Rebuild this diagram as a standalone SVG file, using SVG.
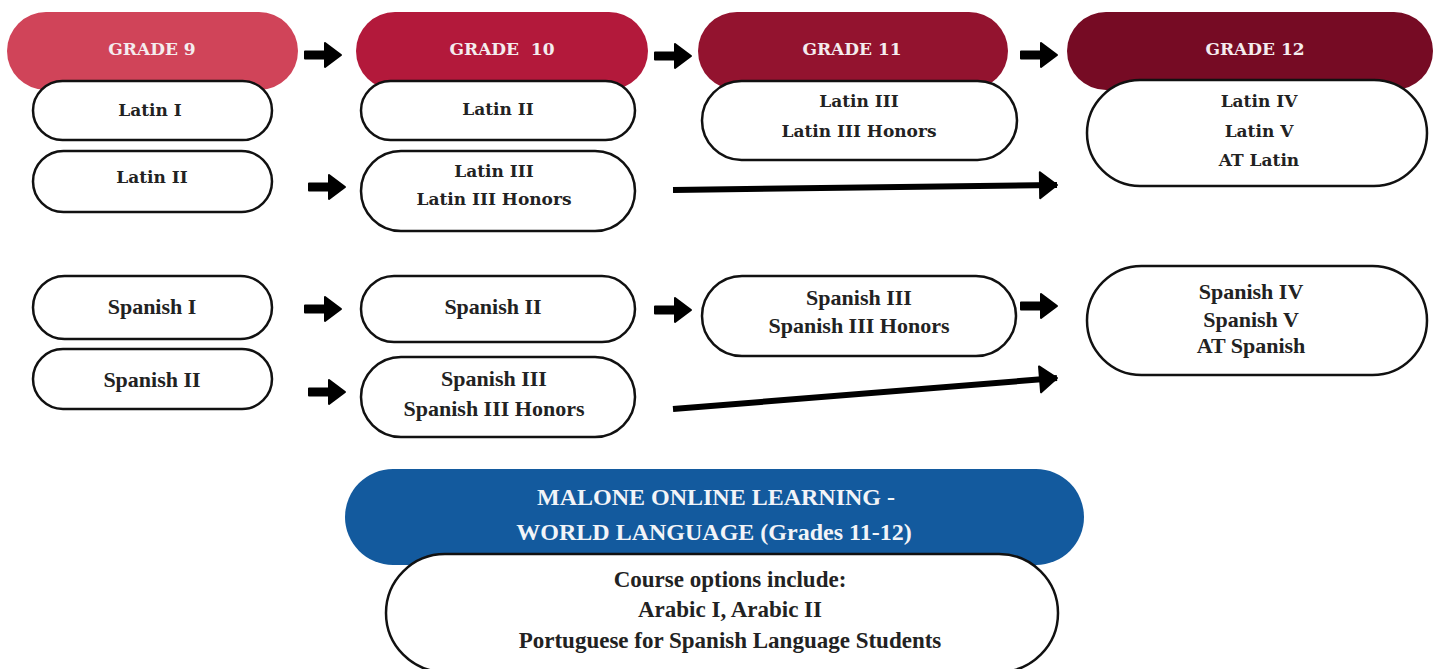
<svg xmlns="http://www.w3.org/2000/svg" width="1435" height="669" viewBox="0 0 1435 669">
<style>
.box{fill:#fff;stroke:#111;stroke-width:2.5}
.hd{font-family:"DejaVu Serif",serif;font-weight:bold;font-size:17px;fill:#f4ecee;text-anchor:middle}
.lt{font-family:"DejaVu Serif",serif;font-weight:bold;font-size:17px;fill:#222;text-anchor:middle}
.sp{font-family:"Liberation Serif",serif;font-weight:bold;font-size:22px;fill:#222;text-anchor:middle}
.ml{font-family:"Liberation Serif",serif;font-weight:bold;font-size:24px;fill:#f2f4f8;text-anchor:middle}
.co{font-family:"Liberation Serif",serif;font-weight:bold;font-size:23px;fill:#222;text-anchor:middle}
.ln{stroke:#000;stroke-width:6;fill:none}
</style>
<defs>
<path id="arr" d="M0,-3.5 L20,-3.5 L20,-12 L36,0 L20,12 L20,3.5 L0,3.5 Z" fill="#000" stroke="#000" stroke-width="2" stroke-linejoin="round"/>
<marker id="head" markerUnits="userSpaceOnUse" markerWidth="22" markerHeight="30" refX="19" refY="14" orient="auto" viewBox="0 0 22 28">
<path d="M2,1 L19,14 L2,27 Z" fill="#000" stroke="#000" stroke-width="2" stroke-linejoin="round"/>
</marker>
</defs>

<g id="grade9">
<rect x="7" y="12" width="291" height="78" rx="39" fill="#d04459"/>
<text class="hd" x="152" y="55">GRADE 9</text>
</g>
<g id="grade10">
<rect x="356" y="12" width="292" height="78" rx="39" fill="#b3193b"/>
<text class="hd" x="502" y="55" xml:space="preserve">GRADE  10</text>
</g>
<g id="grade11">
<rect x="698" y="12" width="310" height="78" rx="39" fill="#93132f"/>
<text class="hd" x="852" y="55">GRADE 11</text>
</g>
<g id="grade12">
<rect x="1067" y="12" width="366" height="78" rx="39" fill="#760b24"/>
<text class="hd" x="1255" y="55">GRADE 12</text>
</g>

<g id="latin1">
<rect class="box" x="33" y="81" width="239" height="59" rx="29.5"/>
<text class="lt" x="150" y="116">Latin I</text>
</g>
<g id="latin2-g9">
<rect class="box" x="33" y="151" width="239" height="61" rx="30.5"/>
<text class="lt" x="152" y="183">Latin II</text>
</g>
<g id="latin2-g10">
<rect class="box" x="361" y="81" width="274" height="59" rx="29.5"/>
<text class="lt" x="498" y="115">Latin II</text>
</g>
<g id="latin3-g10">
<rect class="box" x="361" y="151" width="274" height="80" rx="40"/>
<text class="lt" x="494" y="177">Latin III</text>
<text class="lt" x="494" y="205">Latin III Honors</text>
</g>
<g id="latin3-g11">
<rect class="box" x="702" y="81" width="315" height="79" rx="39.5"/>
<text class="lt" x="859" y="107">Latin III</text>
<text class="lt" x="859" y="137">Latin III Honors</text>
</g>
<g id="latin4-g12">
<rect class="box" x="1087" y="80" width="340" height="106" rx="53"/>
<text class="lt" x="1259" y="107">Latin IV</text>
<text class="lt" x="1259" y="137">Latin V</text>
<text class="lt" x="1259" y="166">AT Latin</text>
</g>

<g id="spanish1">
<rect class="box" x="33" y="276" width="239" height="63" rx="31.5"/>
<text class="sp" x="152" y="314">Spanish I</text>
</g>
<g id="spanish2-g9">
<rect class="box" x="33" y="349" width="239" height="60" rx="30"/>
<text class="sp" x="152" y="387">Spanish II</text>
</g>
<g id="spanish2-g10">
<rect class="box" x="361" y="276" width="274" height="66" rx="33"/>
<text class="sp" x="493" y="314">Spanish II</text>
</g>
<g id="spanish3-g10">
<rect class="box" x="361" y="357" width="274" height="80" rx="40"/>
<text class="sp" x="494" y="386">Spanish III</text>
<text class="sp" x="494" y="416">Spanish III Honors</text>
</g>
<g id="spanish3-g11">
<rect class="box" x="702" y="276" width="314" height="80" rx="40"/>
<text class="sp" x="859" y="305">Spanish III</text>
<text class="sp" x="859" y="333">Spanish III Honors</text>
</g>
<g id="spanish4-g12">
<rect class="box" x="1087" y="266" width="340" height="109" rx="54.5"/>
<text class="sp" x="1251" y="299">Spanish IV</text>
<text class="sp" x="1251" y="327">Spanish V</text>
<text class="sp" x="1251" y="353">AT Spanish</text>
</g>

<g id="malone-header">
<rect x="345" y="469" width="739" height="96" rx="48" fill="#135a9e"/>
<text class="ml" x="716" y="505">MALONE ONLINE LEARNING -</text>
<text class="ml" x="714" y="540">WORLD LANGUAGE (Grades 11-12)</text>
</g>
<g id="course-options">
<rect class="box" x="386" y="554" width="672" height="118" rx="59"/>
<text class="co" x="730" y="587">Course options include:</text>
<text class="co" x="730" y="617">Arabic I, Arabic II</text>
<text class="co" x="730" y="648">Portuguese for Spanish Language Students</text>
</g>

<g id="connectors">
<use href="#arr" x="305" y="55"/>
<use href="#arr" x="655" y="56"/>
<use href="#arr" x="1021" y="55"/>
<use href="#arr" x="309" y="187"/>
<use href="#arr" x="305" y="309"/>
<use href="#arr" x="655" y="310"/>
<use href="#arr" x="1021" y="306"/>
<use href="#arr" x="309" y="392"/>
<line class="ln" x1="673" y1="190" x2="1057" y2="185" marker-end="url(#head)"/>
<line class="ln" x1="673" y1="409" x2="1057" y2="378" marker-end="url(#head)"/>
</g>
</svg>
